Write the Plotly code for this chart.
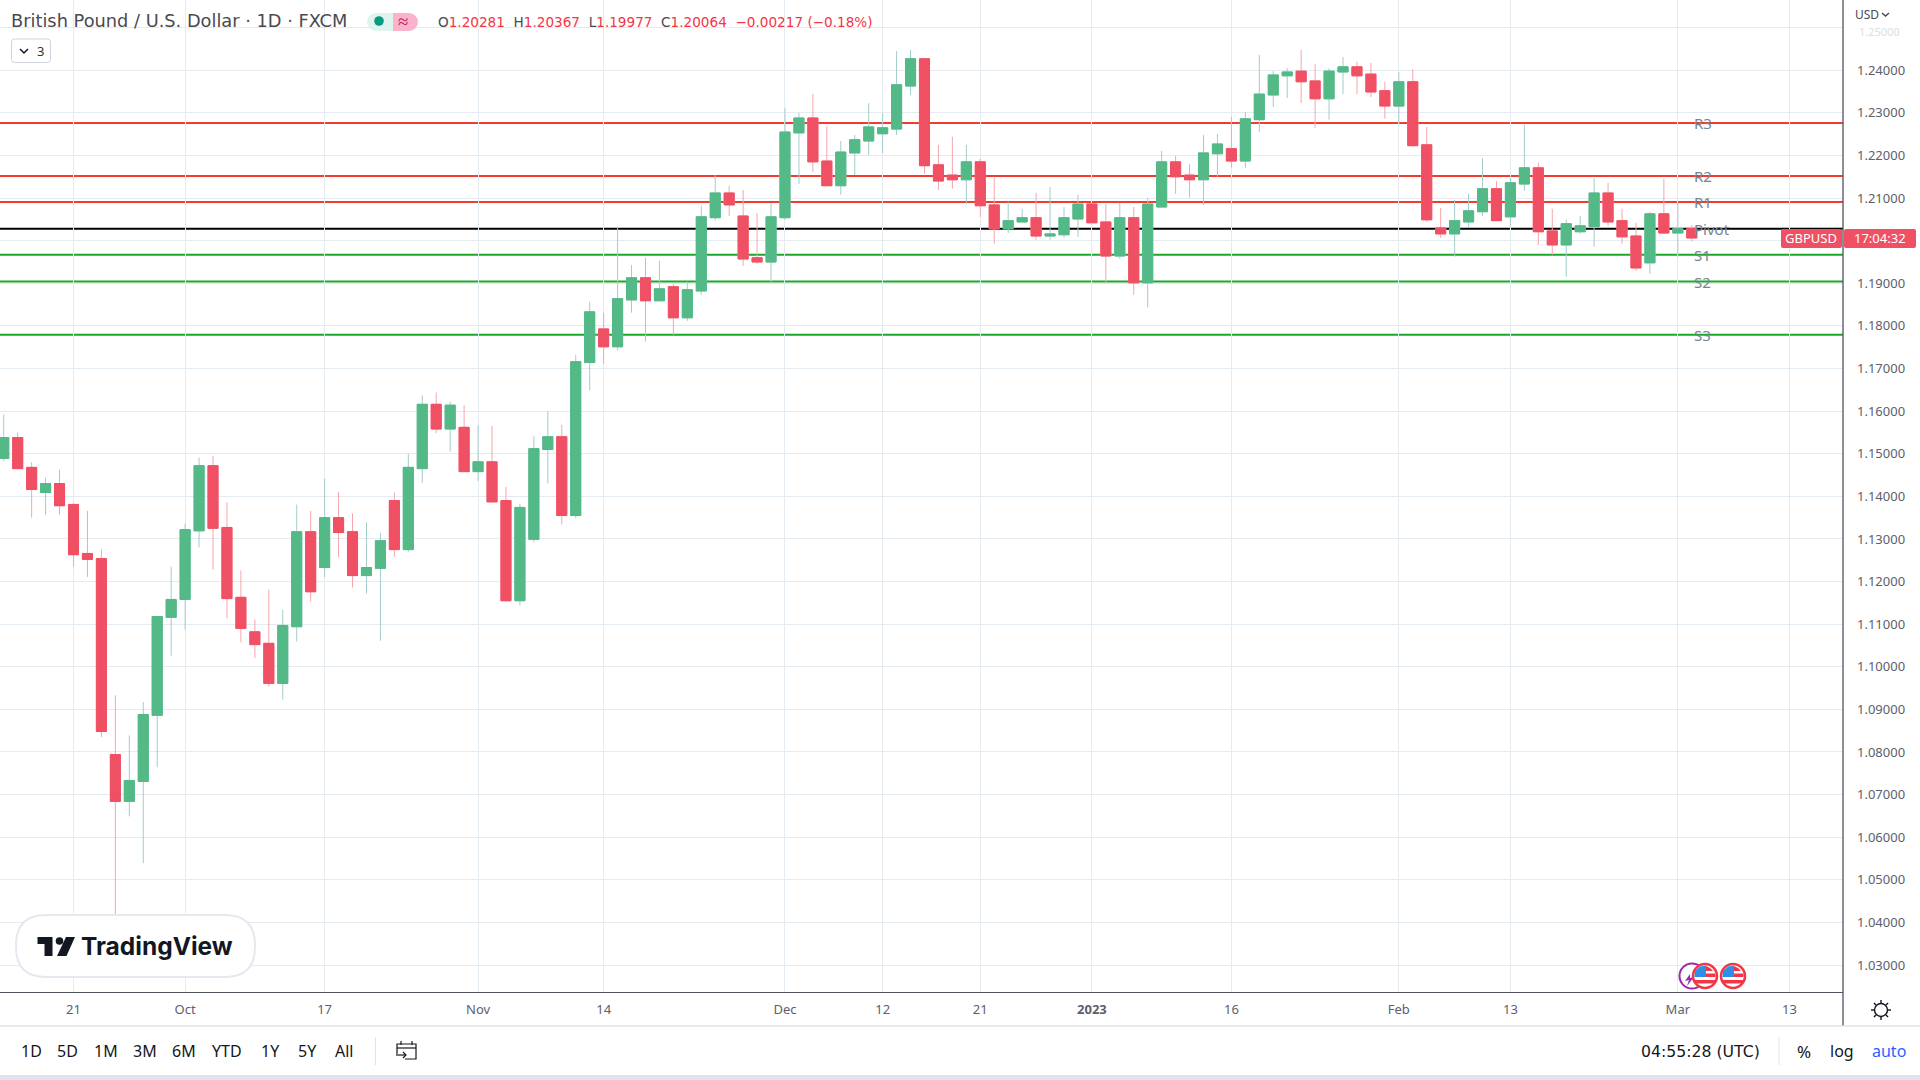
import math

import pandas as pd
import plotly.graph_objects as go

# daily GBP/USD candles
opens = [
	1.1489,1.1538,1.1468,1.1409,1.1430,1.1381,1.1266,1.1254,1.0794,1.0684,
	1.0731,1.0886,1.1116,1.1158,1.1319,1.1472,1.1327,1.1163,1.1082,1.1055,
	1.0961,1.1094,1.1317,1.1233,1.1350,1.1317,1.1214,1.1231,1.1390,1.1275,
	1.1465,1.1616,1.1558,1.1562,1.1458,1.1481,1.1390,1.1155,1.1299,1.1510,
	1.1540,1.1355,1.1714,1.1793,1.1751,1.1861,1.1913,1.1859,1.1892,1.1819,
	1.1882,1.2054,1.2112,1.2058,1.1960,1.1950,1.2054,1.2253,1.2288,1.2187,
	1.2129,1.2206,1.2234,1.2251,1.2262,1.2363,1.2427,1.2178,1.2154,1.2143,
	1.2185,1.2084,1.2028,1.2044,1.2054,1.2011,1.2014,1.2051,1.2086,1.2044,
	1.1964,1.2054,1.1901,1.2079,1.2185,1.2154,1.2143,1.2204,1.2216,1.2187,
	1.2284,1.2342,1.2387,1.2398,1.2375,1.2333,1.2396,1.2408,1.2391,1.2352,
	1.2316,1.2373,1.2225,1.2030,1.2016,1.2044,1.2068,1.2122,1.2056,1.2133,
	1.2171,1.2023,1.1990,1.2021,1.2033,1.2112,1.2047,1.2011,1.1948,1.2063,
	1.2018,1.20281,
]
highs = [
	1.1592,1.1550,1.1480,1.1444,1.1463,1.1384,1.1366,1.1275,1.0933,1.0839,
	1.0917,1.1120,1.1235,1.1336,1.1491,1.1495,1.1386,1.1226,1.1111,1.1181,
	1.1134,1.1381,1.1366,1.1442,1.1411,1.1360,1.1339,1.1314,1.1409,1.1500,
	1.1637,1.1644,1.1623,1.1614,1.1567,1.1565,1.1422,1.1383,1.1541,1.1600,
	1.1568,1.1732,1.1857,1.1831,1.2030,1.1943,1.1960,1.1953,1.1899,1.1904,
	1.2082,1.2154,1.2129,1.2119,1.2065,1.2089,1.2312,1.2300,1.2344,1.2269,
	1.2234,1.2248,1.2323,1.2300,1.2445,1.2448,1.2429,1.2225,1.2244,1.2225,
	1.2192,1.2147,1.2091,1.2075,1.2112,1.2126,1.2079,1.2108,1.2086,1.2086,
	1.2089,1.2079,1.2101,1.2211,1.2199,1.2180,1.2248,1.2251,1.2291,1.2302,
	1.2436,1.2398,1.2405,1.2448,1.2415,1.2405,1.2431,1.2420,1.2417,1.2373,
	1.2396,1.2403,1.2267,1.2077,1.2096,1.2110,1.2194,1.2140,1.2152,1.2272,
	1.2183,1.2075,1.2049,1.2058,1.2147,1.2136,1.2075,1.2042,1.2068,1.2145,
	1.2089,1.20367,
]
lows = [
	1.1482,1.1464,1.1350,1.1357,1.1357,1.1235,1.1211,1.0835,1.0350,1.0649,
	1.0539,1.0764,1.1026,1.1087,1.1280,1.1228,1.1113,1.1057,1.1020,1.0953,
	1.0923,1.1059,1.1153,1.1210,1.1257,1.1186,1.1172,1.1061,1.1258,1.1270,
	1.1432,1.1548,1.1505,1.1458,1.1436,1.1387,1.1153,1.1144,1.1292,1.1430,
	1.1334,1.1348,1.1648,1.1711,1.1742,1.1831,1.1763,1.1859,1.1779,1.1812,
	1.1873,1.2047,1.2058,1.1941,1.1946,1.1900,1.2049,1.2133,1.2161,1.2129,
	1.2108,1.2154,1.2201,1.2206,1.2248,1.2342,1.2157,1.2119,1.2122,1.2086,
	1.2056,1.1993,1.2018,1.2044,1.2002,1.2002,1.2007,1.2009,1.2042,1.1900,
	1.1957,1.1873,1.1843,1.2079,1.2110,1.2101,1.2084,1.2150,1.2171,1.2171,
	1.2255,1.2314,1.2335,1.2323,1.2265,1.2284,1.2344,1.2344,1.2337,1.2286,
	1.2272,1.2223,1.2044,1.2007,1.1962,1.2030,1.2058,1.2047,1.2033,1.2117,
	1.1990,1.1967,1.1915,1.2016,1.1986,1.2035,1.1993,1.1929,1.1922,1.2018,
	1.1962,1.19977,
]
closes = [
	1.1538,1.1465,1.1416,1.1430,1.1378,1.1263,1.1252,1.0848,1.0684,1.0733,
	1.0888,1.1118,1.1158,1.1322,1.1472,1.1325,1.1160,1.1090,1.1052,1.0961,
	1.1097,1.1317,1.1176,1.1350,1.1315,1.1214,1.1233,1.1296,1.1275,1.1468,
	1.1616,1.1558,1.1614,1.1458,1.1481,1.1387,1.1155,1.1374,1.1512,1.1540,
	1.1355,1.1716,1.1833,1.1751,1.1864,1.1913,1.1859,1.1887,1.1819,1.1885,
	1.2056,1.2112,1.2084,1.1957,1.1950,1.2056,1.2255,1.2288,1.2185,1.2129,
	1.2208,1.2237,1.2267,1.2265,1.2366,1.2427,1.2176,1.2140,1.2143,1.2185,
	1.2082,1.2028,1.2047,1.2054,1.2011,1.2016,1.2054,1.2086,1.2042,1.1964,
	1.2054,1.1901,1.2086,1.2185,1.2150,1.2143,1.2206,1.2227,1.2187,1.2286,
	1.2344,1.2389,1.2396,1.2373,1.2333,1.2398,1.2408,1.2387,1.2349,1.2316,
	1.2373,1.2223,1.2049,1.2016,1.2047,1.2070,1.2122,1.2047,1.2136,1.2171,
	1.2021,1.1990,1.2040,1.2035,1.2112,1.2044,1.2009,1.1936,1.2063,1.2018,
	1.2028,1.20064,
]

first_day = "2022-09-14"
tick_dates = ["2022-09-21","2022-10-03","2022-10-17","2022-11-01","2022-11-14","2022-12-01","2022-12-12",
	"2022-12-21","2023-01-02","2023-01-16","2023-02-01","2023-02-13","2023-03-01","2023-03-13"]
tick_labels = ["21","Oct","17","Nov","14","Dec","12","21","<b>2023</b>","16","Feb","13","Mar","13"]

price_ticks = [round(1.03+0.01*n,2) for n in range(23)]

level_names = ["R3","R2","R1","Pivot","S1","S2","S3"]
level_values = [1.2276,1.2152,1.2091,1.2028,1.1967,1.1904,1.1779]
level_colors = ["#f23b30","#f23b30","#f23b30","#000000","#1aa82a","#1aa82a","#1aa82a"]

range_buttons = ["1D","5D","1M","3M","6M","YTD","1Y","5Y","All"]
range_centers = [31,67,106,145,184,227,270,307,344]

RED = "#ef5064"
GREEN = "#53b987"
RED_WICK = "#f7a5ad"
GREEN_WICK = "#a3cdca"
GRID = "#e4ecf1"
AXIS = "#50535e"
FONT = "Noto Sans"
WIDE_FONT = "DejaVu Sans"

# the plot area in screen pixels, everything around the chart is placed through these
PLOT_W = 1843
PLOT_H = 992

def px(x):
	return x/PLOT_W

def py(y):
	return 1-y/PLOT_H

def label(text,x,y,size=14,color="#131722",anchor="left",family=FONT):
	return dict(text=text,x=px(x),y=py(y),xref="paper",yref="paper",xanchor=anchor,yanchor="middle",
		showarrow=False,font=dict(family=family,size=size,color=color))

def rect(x0,y0,x1,y1,fill,line=None,width=0):
	return dict(type="rect",xref="paper",yref="paper",x0=px(x0),x1=px(x1),y0=py(y0),y1=py(y1),
		fillcolor=fill,line=dict(color=line,width=width))

def circle(cx,cy,r,fill,line=None,width=0):
	return dict(type="circle",xref="paper",yref="paper",x0=px(cx-r),x1=px(cx+r),y0=py(cy-r),y1=py(cy+r),
		fillcolor=fill,line=dict(color=line,width=width))

def path(points,fill="rgba(0,0,0,0)",line=None,width=0,closed=False):
	d = "M "+" L ".join(f"{px(x):.5f},{py(y):.5f}" for x,y in points)+(" Z" if closed else "")
	return dict(type="path",xref="paper",yref="paper",path=d,fillcolor=fill,line=dict(color=line,width=width))

def rounded(x0,y0,x1,y1,r,fill,line=None,width=0):
	def p(x,y):
		return f"{px(x):.5f},{py(y):.5f}"
	d = (f"M {p(x0+r,y0)} L {p(x1-r,y0)} Q {p(x1,y0)} {p(x1,y0+r)} L {p(x1,y1-r)} Q {p(x1,y1)} {p(x1-r,y1)} "
		f"L {p(x0+r,y1)} Q {p(x0,y1)} {p(x0,y1-r)} L {p(x0,y0+r)} Q {p(x0,y0)} {p(x0+r,y0)} Z")
	return dict(type="path",xref="paper",yref="paper",path=d,fillcolor=fill,line=dict(color=line,width=width))

def flag(cx,cy):
	return [
		circle(cx,cy,12,"#ffffff","#f23645",2.5),
		path([(cx-10,cy-5),(cx-5,cy-9.5),(cx+1,cy-10.5),(cx+1,cy+1),(cx-10.5,cy+1)],"#2f8fe8",closed=True),
		path([(cx+1,cy-10),(cx+5,cy-8),(cx+8,cy-5),(cx+1,cy-5)],"#f23645",closed=True),
		rect(cx+1,cy-2.5,cx+10.5,cy+1,"#f23645"),
		rect(cx-10,cy+4,cx+10,cy+7.5,"#f23645"),
	]

days = pd.bdate_range(first_day,periods=len(opens)+10)
index = list(range(len(opens)))
tick_positions = [days.get_loc(pd.Timestamp(d)) for d in tick_dates]

body_tops = [max(o,c) for o,c in zip(opens,closes)]
body_bottoms = [min(o,c) for o,c in zip(opens,closes)]

figure = go.Figure()

# wicks first, solid bodies on top so the wicks stay paler than the bodies
figure.add_trace(
	go.Candlestick(
		x = index,
		open = opens,
		high = highs,
		low = lows,
		close = closes,
		increasing = dict(line=dict(color=GREEN_WICK,width=1),fillcolor=GREEN),
		decreasing = dict(line=dict(color=RED_WICK,width=1),fillcolor=RED),
		hoverinfo = "skip",
	)
)
figure.add_trace(
	go.Candlestick(
		x = index,
		open = opens,
		high = body_tops,
		low = body_bottoms,
		close = closes,
		increasing = dict(line=dict(color=GREEN,width=1),fillcolor=GREEN),
		decreasing = dict(line=dict(color=RED,width=1),fillcolor=RED),
		hoverinfo = "skip",
	)
)

for value,color in zip(level_values,level_colors):
	figure.add_hline(y=value,line=dict(color=color,width=2),layer="below")

annotations = [
	label("British Pound / U.S. Dollar · 1D · FXCM",9,21,size=17.8,color="#4a4a4f",family=WIDE_FONT),
	label("≈",403,21,size=19,color="#c2185b",anchor="center"),
	label("3",40,51,size=13,color="#333333",anchor="center"),
	label(
		"O<span style='color:#f23645'>1.20281</span>  H<span style='color:#f23645'>1.20367</span>  "
		"L<span style='color:#f23645'>1.19977</span>  C<span style='color:#f23645'>1.20064</span>"
		"<span style='color:#f23645'>  −0.00217 (−0.18%)</span>",
		436,22,size=13.6,color="#4a4a4f",family=WIDE_FONT,
	),
	label("1.25000",1879,31,size=11,color="#dcdee2",anchor="center"),
	label("USD",1853,14,size=12,color="#4a4a4f"),
	label("GBPUSD",1811,238,size=13,color="#ffffff",anchor="center"),
	label("17:04:32",1880,238,size=13,color="#ffffff",anchor="center"),
	label("<b>TradingView</b>",79,946,size=24.5,color="#131722",family="Inter"),
	label("04:55:28 (UTC)",1700,1051,size=15.7,anchor="center",family=WIDE_FONT),
	label("%",1804,1051,size=17,anchor="center"),
	label("log",1842,1051,size=16,anchor="center"),
	label("auto",1889,1051,size=16,color="#2962ff",anchor="center"),
]
for name,center in zip(range_buttons,range_centers):
	annotations.append(label(name,center,1051,size=16,anchor="center"))
for name,value in zip(level_names,level_values):
	annotations.append(dict(text=name,x=px(1692),y=value,xref="paper",yref="y",xanchor="left",yanchor="middle",
		yshift=0,showarrow=False,font=dict(family=FONT,size=15,color="#76858f")))

sun = [circle(1881,1010,6.5,"#ffffff","#131722",1.4)]
for n in range(8):
	a = n*math.pi/4
	sun.append(path([(1881+7*math.cos(a),1010+7*math.sin(a)),(1881+10*math.cos(a),1010+10*math.sin(a))],line="#131722",width=1.4))

shapes = [
	# axis frame and toolbar
	path([(PLOT_W,0),(PLOT_W,1026)],line=AXIS,width=1.3),
	path([(0,1026),(1920,1026)],line="#e0e3eb",width=1.5),
	rect(0,1075,1920,1080,"#e0e3eb"),
	path([(375.5,1037),(375.5,1065)],line="#e0e3eb",width=1),
	path([(1779,1037),(1779,1065)],line="#e0e3eb",width=1),
	# status pill
	circle(376,22,9,"#dff3ef"),
	rect(376,13,393,31,"#dff3ef"),
	circle(409,22,9,"#f9b3cd"),
	rect(393,13,409,31,"#f9b3cd"),
	circle(379,21,4.8,"#089981"),
	# collapsed indicators button
	rounded(11.5,39,50.5,62.5,3,"#ffffff","#d1d4dc",1),
	path([(20,49),(24,53),(28,49)],line="#131722",width=1.5),
	# currency chevron
	path([(1882,13),(1885.5,16),(1889,13)],line="#4a4a4f",width=1.5),
	# price tag
	rounded(1781,229,1842,248,2,RED),
	rounded(1844,229,1916,248,2,RED),
	# watermark
	rounded(16,915,255,977,30,"#ffffff","#e6e8ef",2),
	path([(37.5,937),(52.5,937),(52.5,956),(44.5,956),(44.5,944),(37.5,944)],"#131722",closed=True),
	circle(59.5,941,3.8,"#131722"),
	path([(66,937),(75,937),(66.5,956),(57,956)],"#131722",closed=True),
	# calendar icon
	path([(397,1054),(397,1044),(416,1044),(416,1059),(405,1059)],line="#131722",width=1.2),
	path([(397,1048),(416,1048)],line="#131722",width=1.2),
	path([(401,1041),(401,1045)],line="#131722",width=1.2),
	path([(412,1041),(412,1045)],line="#131722",width=1.2),
	path([(396,1055),(406,1055)],line="#131722",width=1.2),
	path([(403,1052),(406,1055),(403,1058)],line="#131722",width=1.2),
	# event markers
	circle(1692,976,12.5,"#ffffff","#9c27b0",2),
	path([(1690,974),(1685,981),(1689,980),(1687,986),(1694,977),(1690,978)],"#9c27b0",closed=True),
]+flag(1705,976)+flag(1733,976)+sun

figure.update_layout(
	width = 1920,
	height = 1080,
	margin = dict(l=0,r=1920-PLOT_W,t=0,b=1080-PLOT_H,pad=0),
	paper_bgcolor = "#ffffff",
	plot_bgcolor = "#ffffff",
	showlegend = False,
	boxmode = "overlay",
	boxgap = 0.15,
	boxgroupgap = 0.15,
	annotations = annotations,
	shapes = list(figure.layout.shapes)+shapes,
	font = dict(family=FONT),
	xaxis = dict(
		range = [-0.269,131.84],
		rangeslider = dict(visible=False),
		tickmode = "array",
		tickvals = tick_positions,
		ticktext = tick_labels,
		tickfont = dict(family=FONT,size=13,color="#5d606b"),
		ticks = "",
		ticklabelstandoff = 5,
		showgrid = True,
		gridcolor = GRID,
		gridwidth = 1,
		zeroline = False,
		showline = True,
		linecolor = AXIS,
		linewidth = 1.3,
	),
	yaxis = dict(
		range = [1.02367,1.25649],
		side = "right",
		tickmode = "array",
		tickvals = price_ticks,
		ticktext = [f"{v:.5f}" if v<1.25 else "" for v in price_ticks],
		tickfont = dict(family=FONT,size=13,color="#5d606b"),
		ticks = "",
		ticklabelstandoff = 13,
		showgrid = True,
		gridcolor = GRID,
		gridwidth = 1,
		zeroline = False,
		showline = False,
	),
)

figure.write_html(
	"out.html",
	config = dict(displayModeBar=False),
	post_script = "document.body.style.margin='0';document.body.style.overflow='hidden';",
)
